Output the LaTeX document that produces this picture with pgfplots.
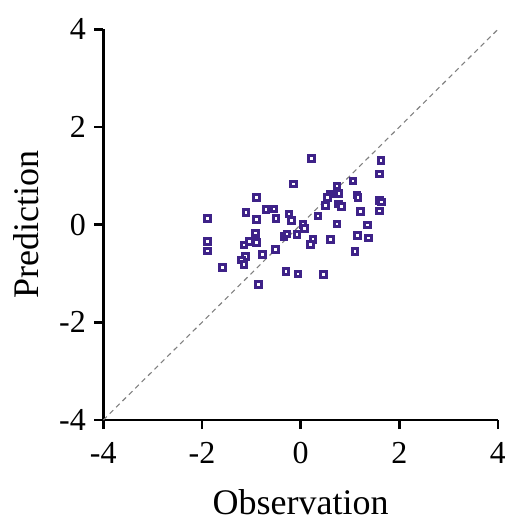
\documentclass[border=0pt]{standalone}
\usepackage{pgfplots}
\pgfplotsset{compat=1.18}
\usepackage{fontspec}
\setmainfont{Liberation Serif}
\definecolor{markc}{RGB}{62,34,136}

\begin{document}
\begin{tikzpicture}
\useasboundingbox (-103.3pt,-102pt) rectangle (401.7pt,420pt);
\begin{axis}[
    scale only axis,
    width=394.7pt, height=390.7pt,
    xmin=-4, xmax=4, ymin=-4, ymax=4,
    xtick={-4,-2,0,2,4}, ytick={-4,-2,0,2,4},
    axis lines*=left,
    axis line style={line width=2.6pt},
    tick style={line width=2.6pt, black},
    major tick length=9pt,
    tick align=outside,
    /pgf/number format/assume math mode=true,
    ticklabel style={font=\fontsize{32}{36}\selectfont},
    xticklabel style={yshift=-10pt},
    yticklabel style={xshift=-5pt},
    label style={font=\fontsize{36}{40}\selectfont},
    xlabel={Observation},
    ylabel={Prediction},
    xlabel style={at={(axis description cs:0.5,-0.243)}, anchor=base},
    ylabel style={at={(axis description cs:-0.165,0.5)}, anchor=base},
    clip=false,
]
\addplot[gray, line width=1.1pt, dash pattern=on 5pt off 4pt] coordinates {(-4,-4) (4,4)};
\addplot[only marks, mark=square*, mark size=2.8pt,
    mark options={draw=markc, fill=white, line width=3pt}]
coordinates {
(-0.15,0.83) (-0.89,0.55) (-1.11,0.25) (-0.70,0.31) (-0.54,0.32)
(-0.24,0.22) (-0.18,0.08) (-1.89,0.12) (-0.89,0.10) (-0.50,0.13)
(-1.89,-0.34) (-1.89,-0.54) (-0.92,-0.17) (-1.04,-0.34) (-0.91,-0.31)
(-0.89,-0.37) (-1.15,-0.42) (-0.77,-0.61) (-0.51,-0.51) (-0.34,-0.24)
(-0.28,-0.19) (-0.07,-0.20) (-1.12,-0.65) (-1.20,-0.72) (-1.15,-0.81)
(-1.59,-0.88) (-0.30,-0.96) (-0.05,-1.01) (-0.85,-1.23)
(0.22,1.36) (1.63,1.31) (1.60,1.04) (1.06,0.89) (0.74,0.79)
(0.78,0.64) (0.61,0.63) (0.54,0.56) (1.14,0.61) (1.16,0.55)
(0.77,0.42) (0.83,0.37) (0.50,0.39) (1.60,0.50) (1.64,0.46)
(1.60,0.28) (1.21,0.27) (0.35,0.18) (1.35,-0.01) (0.74,0.01)
(0.05,0.00) (0.08,-0.08) (1.15,-0.22) (1.37,-0.27) (0.25,-0.31)
(0.20,-0.41) (0.61,-0.31) (1.10,-0.55) (0.46,-1.02)
};
\end{axis}
\end{tikzpicture}
\end{document}
